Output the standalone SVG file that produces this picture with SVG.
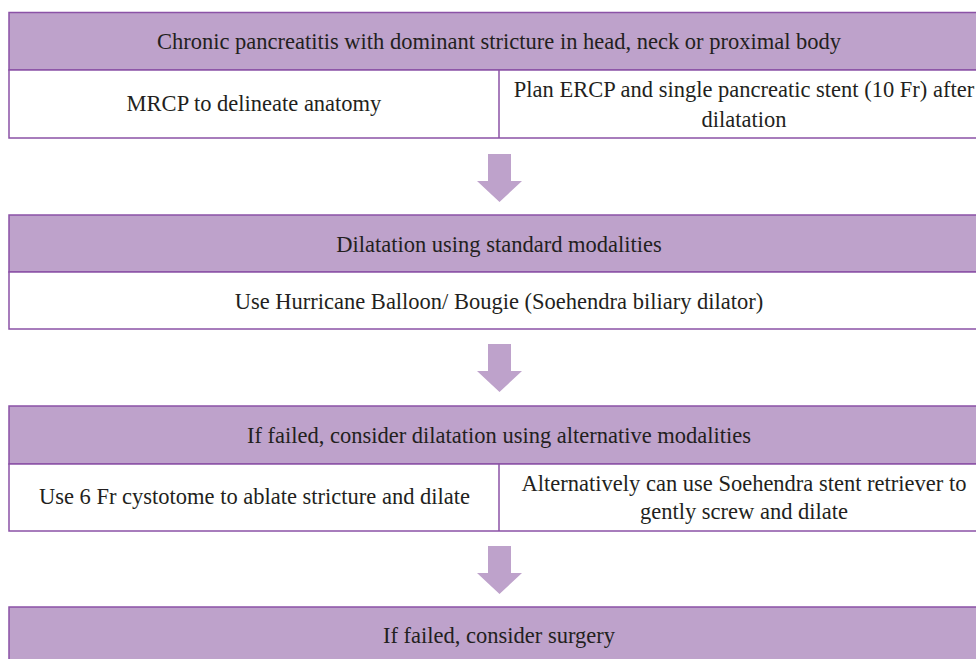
<svg xmlns="http://www.w3.org/2000/svg" xmlns:xlink="http://www.w3.org/1999/xlink" width="976" height="659" viewBox="0 0 976 659">
<style>
.hd{fill:#bea2cb;stroke:#8b52a6;stroke-width:1.5}
.bd{fill:#ffffff;stroke:#8b52a6;stroke-width:1.5}
.dv{stroke:#8b52a6;stroke-width:1.5}
.ar{fill:#bea2cb}
text{font-family:"Liberation Serif","Times New Roman",serif;font-size:22.5px;fill:#231f20;text-anchor:middle}
</style>
<defs>
<path id="arrow" d="M-11.5,0 H11.5 V27 H22.5 L0,48 L-22.5,27 H-11.5 Z"/>
</defs>
<rect width="976" height="659" fill="#ffffff"/>
<g id="connectors" class="ar">
<use xlink:href="#arrow" x="499.5" y="154"/>
<use xlink:href="#arrow" x="499.5" y="344"/>
<use xlink:href="#arrow" x="499.5" y="546"/>
</g>
<g id="node1">
<rect class="hd" x="9" y="12.5" width="985" height="57.5"/>
<rect class="bd" x="9" y="70" width="985" height="68"/>
<line class="dv" x1="499" y1="70" x2="499" y2="138"/>
<text x="499" y="49">Chronic pancreatitis with dominant stricture in head, neck or proximal body</text>
<text x="254" y="110.5">MRCP to delineate anatomy</text>
<text x="744" y="97">Plan ERCP and single pancreatic stent (10 Fr) after</text>
<text x="744" y="126.5">dilatation</text>
</g>
<g id="node2">
<rect class="hd" x="9" y="215" width="985" height="57"/>
<rect class="bd" x="9" y="272" width="985" height="57"/>
<text x="499" y="251.5">Dilatation using standard modalities</text>
<text x="499" y="309">Use Hurricane Balloon/ Bougie (Soehendra biliary dilator)</text>
</g>
<g id="node3">
<rect class="hd" x="9" y="406" width="985" height="58"/>
<rect class="bd" x="9" y="464" width="985" height="67"/>
<line class="dv" x1="499" y1="464" x2="499" y2="531"/>
<text x="499" y="443">If failed, consider dilatation using alternative modalities</text>
<text x="254.5" y="504">Use 6 Fr cystotome to ablate stricture and dilate</text>
<text x="744" y="490.5">Alternatively can use Soehendra stent retriever to</text>
<text x="744" y="519">gently screw and dilate</text>
</g>
<g id="node4">
<rect class="hd" x="9" y="607" width="985" height="70"/>
<text x="499" y="643">If failed, consider surgery</text>
</g>
</svg>
